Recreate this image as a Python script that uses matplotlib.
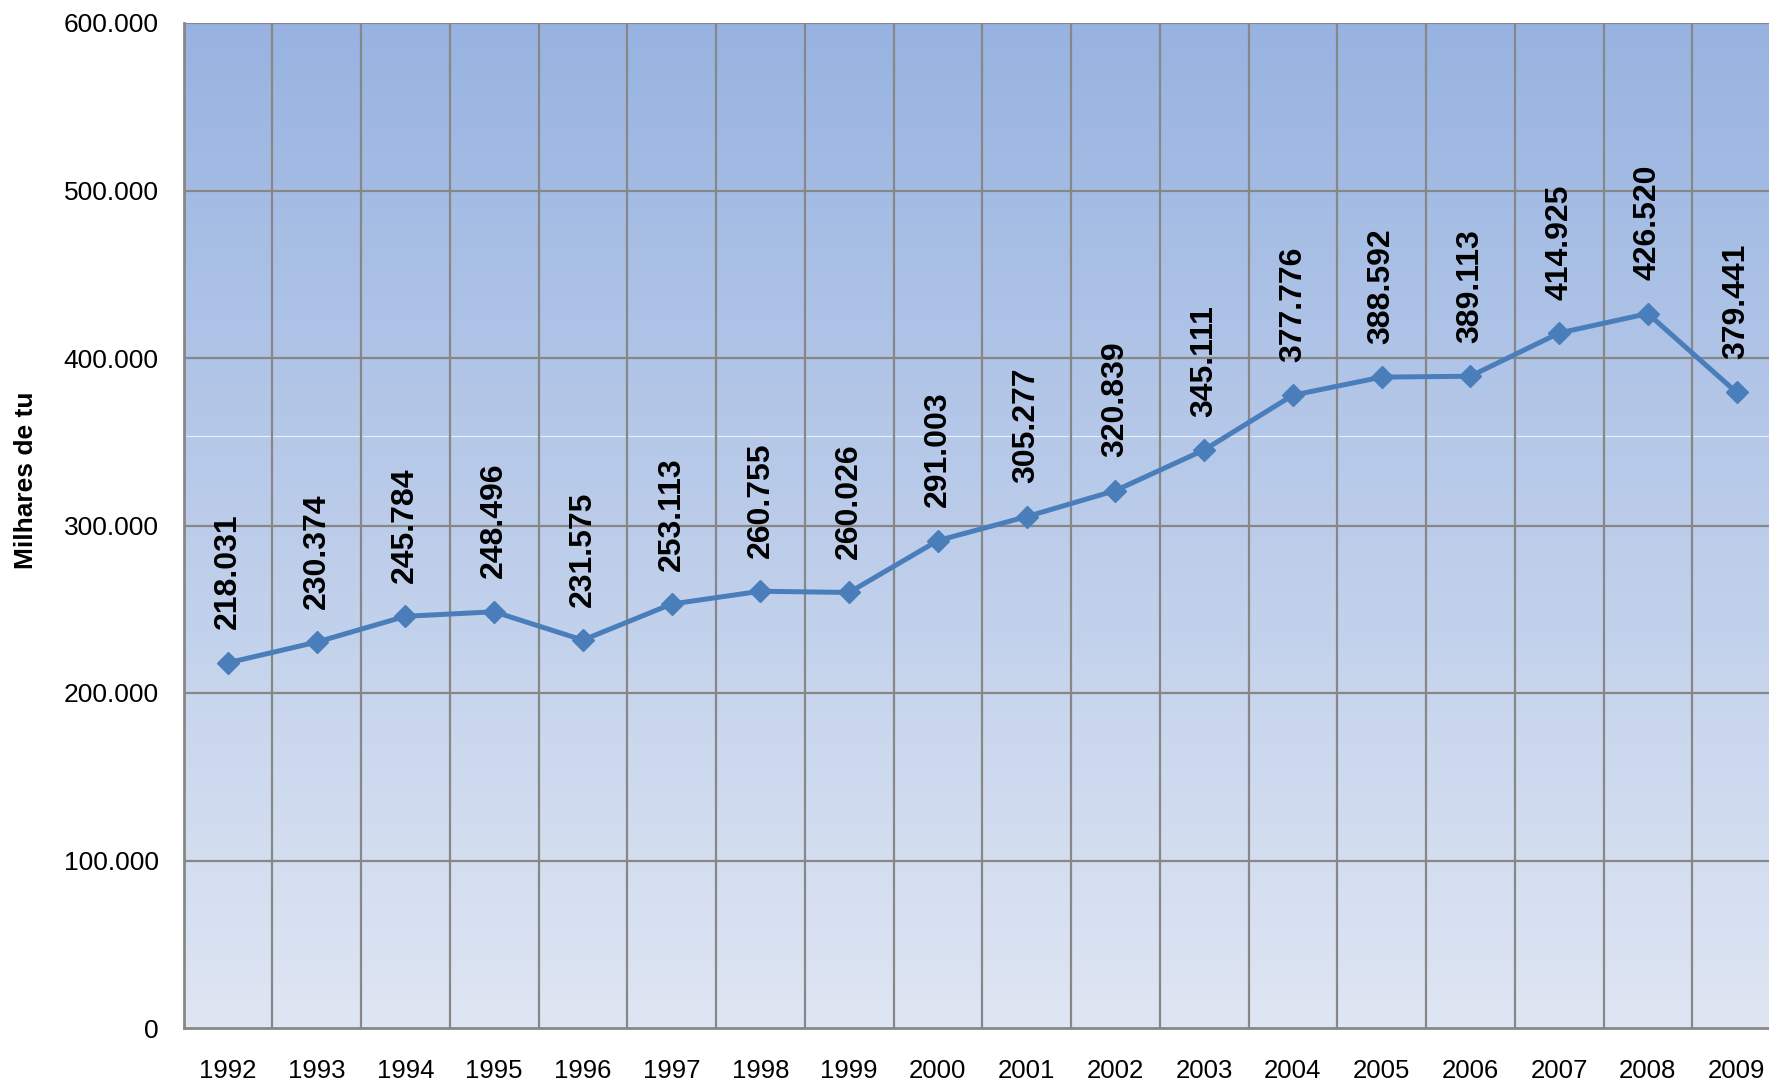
import matplotlib
matplotlib.use("Agg")
import matplotlib.pyplot as plt
import numpy as np
from matplotlib.colors import LinearSegmentedColormap

years = ["1992", "1993", "1994", "1995", "1996", "1997", "1998", "1999", "2000",
         "2001", "2002", "2003", "2004", "2005", "2006", "2007", "2008", "2009"]
values = [218031, 230374, 245784, 248496, 231575, 253113, 260755, 260026, 291003,
          305277, 320839, 345111, 377776, 388592, 389113, 414925, 426520, 379441]
yticks = [0, 100000, 200000, 300000, 400000, 500000, 600000]
ylabel = "Milhares de tu"

plt.rcParams['font.family'] = ['Liberation Sans', 'DejaVu Sans']

W, H = 1769, 1080
fig = plt.figure(figsize=(W / 100, H / 100), dpi=100)
left, right, top, bottom = 183.5, 1781.0, 23.0, 1028.0
ax = fig.add_axes([left / W, 1 - bottom / H, (right - left) / W, (bottom - top) / H])

x = np.arange(len(years))
ax.set_xlim(-0.5, len(years) - 0.5)
ax.set_ylim(0, 600000)

# gradient background
cmap = LinearSegmentedColormap.from_list("bg", ["#DFE6F3", "#98B3E1"])
grad = np.linspace(0, 1, 256).reshape(-1, 1)
ax.imshow(grad, aspect="auto", cmap=cmap, origin="lower",
          extent=(-0.5, len(years) - 0.5, 0, 600000), zorder=0)
ax.axhline(0.589 * 600000, color="white", lw=0.8, alpha=0.7, zorder=0.5)

# grid
grid_c = "#878787"
for yt in yticks[1:]:
    ax.axhline(yt, color=grid_c, lw=1.6, zorder=1)
for b in np.arange(-0.5, len(years), 1.0)[1:]:
    ax.axvline(b, color=grid_c, lw=1.6, zorder=1)

for s in ["top", "right"]:
    ax.spines[s].set_visible(False)
for s in ["left", "bottom"]:
    ax.spines[s].set_color(grid_c)
    ax.spines[s].set_linewidth(2.0)

ax.plot(x, values, color="#4A7EBB", lw=3.6, marker="D", markersize=11,
        markerfacecolor="#4A7EBB", markeredgecolor="#4A7EBB", zorder=3, clip_on=False)

for xi, v in zip(x, values):
    ax.annotate(f"{v:,}".replace(",", "."), (xi, v), xytext=(0, 24), textcoords="offset points",
                rotation=90, ha="center", va="bottom", fontsize=23, fontweight="bold",
                color="black", zorder=4)

ax.set_xticks(x)
ax.set_xticklabels(years, fontsize=18.5)
ax.set_yticks(yticks)
ax.set_yticklabels([f"{t:,}".replace(",", ".") for t in yticks], fontsize=19)
ax.tick_params(axis="both", length=0)
ax.tick_params(axis="x", pad=22)
ax.tick_params(axis="y", pad=18)

fig.text(26 / W, 1 - 480 / H, ylabel, rotation=90, ha="center", va="center",
         fontsize=19, fontweight="bold")

fig.savefig("out.png", dpi=100)
